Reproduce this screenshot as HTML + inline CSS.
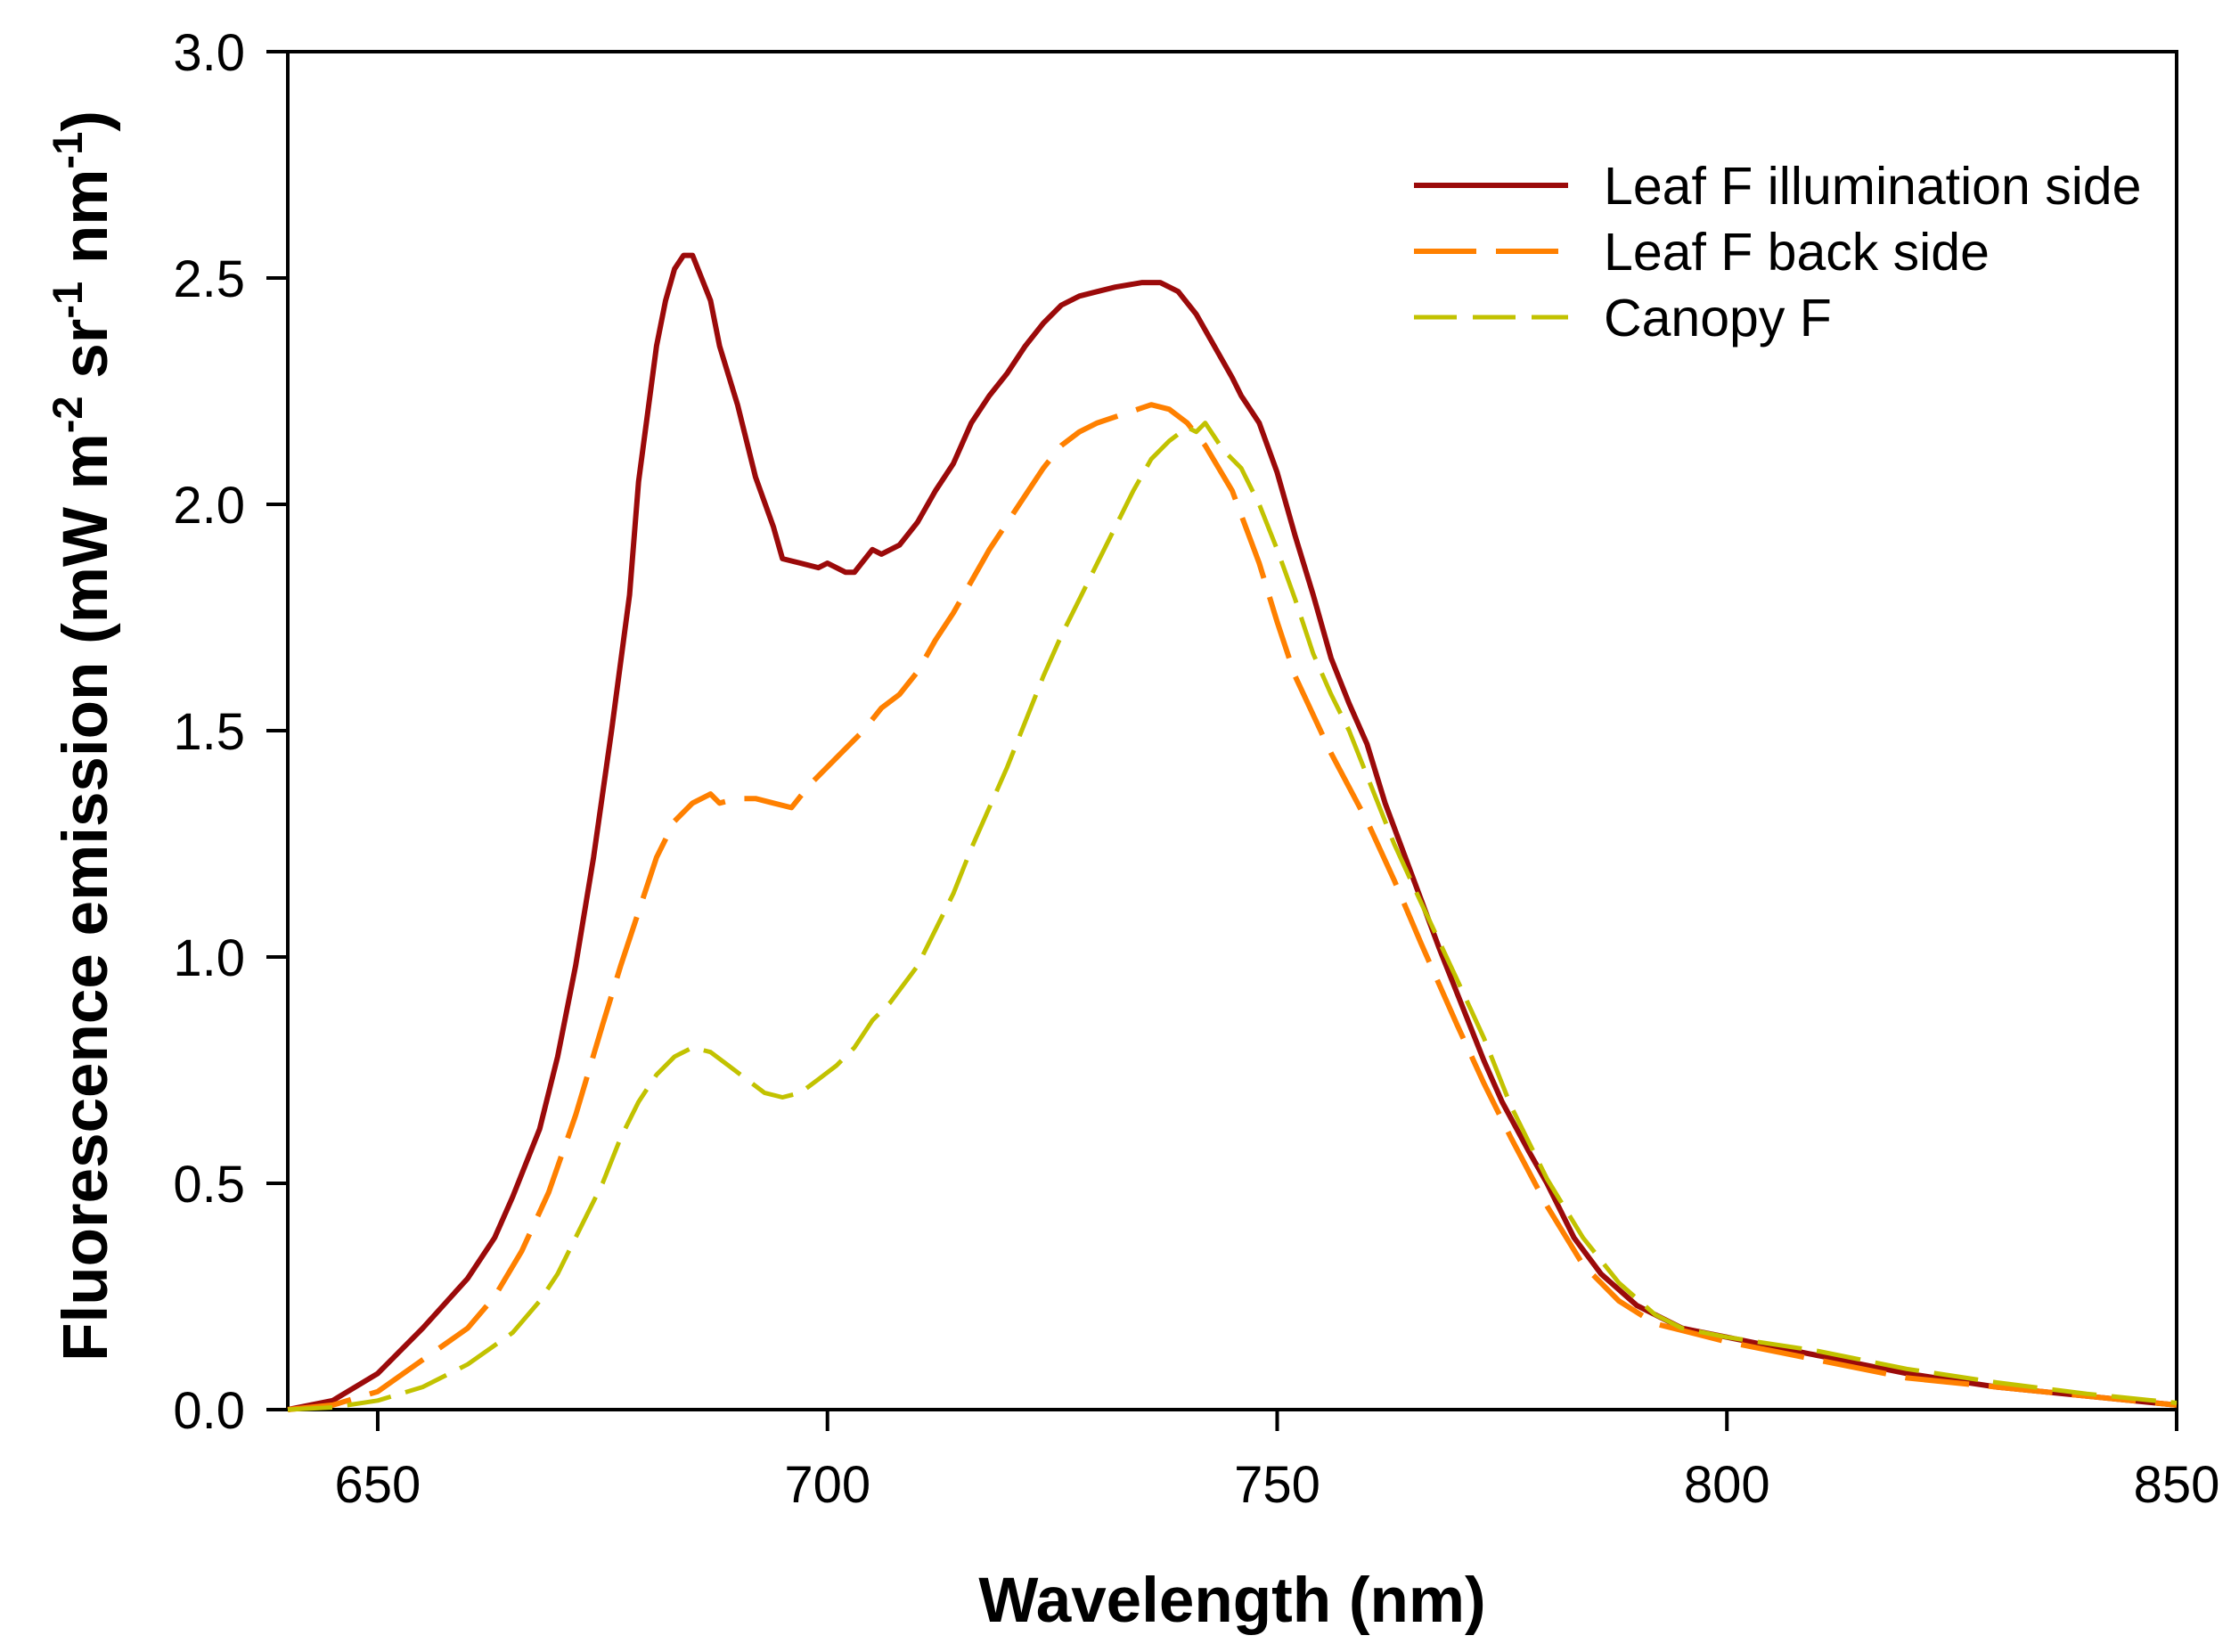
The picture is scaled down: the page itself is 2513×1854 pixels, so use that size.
<!DOCTYPE html>
<html><head><meta charset="utf-8"><style>
html,body{margin:0;padding:0;background:#fff;}
svg{display:block;font-family:"Liberation Sans",Arial,sans-serif;}
</style></head><body>
<svg id="chart" width="2513" height="1854" viewBox="0 0 2513 1854" xmlns="http://www.w3.org/2000/svg">
<rect width="2513" height="1854" fill="#fff"/>
<g id="axes"></g>
<g id="series"></g>
<g id="legend"></g>
<text x="1383" y="1820" font-size="71" font-weight="bold" text-anchor="middle">Wavelength (nm)</text>
<text transform="translate(120,826) rotate(-90)" font-size="71" font-weight="bold" text-anchor="middle">Fluorescence emission (mW m<tspan font-size="47" dy="-28">-2</tspan><tspan dy="28"> sr</tspan><tspan font-size="47" dy="-28">-1</tspan><tspan dy="28"> nm</tspan><tspan font-size="47" dy="-28">-1</tspan><tspan dy="28">)</tspan></text>
</svg>
<script>
const xTicks = [650, 700, 750, 800, 850];
const yTicks = [0.0, 0.5, 1.0, 1.5, 2.0, 2.5, 3.0];
const seriesNames = ["Leaf F illumination side", "Leaf F back side", "Canopy F"];
const illumWl = [640,645,650,655,660,663,665,668,670,672,674,676,678,679,680,681,682,683,684,685,686,687,688,690,692,694,695,697,699,700,702,703,705,706,708,710,712,714,716,718,720,722,724,726,728,730,732,735,737,739,741,743,745,746,748,750,752,754,756,758,760,762,765,768,770,773,775,778,780,783,786,790,795,800,810,820,830,840,850];
const illumVal = [0,0.02,0.08,0.18,0.29,0.38,0.47,0.62,0.78,0.98,1.22,1.5,1.8,2.05,2.2,2.35,2.45,2.52,2.55,2.55,2.5,2.45,2.35,2.22,2.06,1.95,1.88,1.87,1.86,1.87,1.85,1.85,1.9,1.89,1.91,1.96,2.03,2.09,2.18,2.24,2.29,2.35,2.4,2.44,2.46,2.47,2.48,2.49,2.49,2.47,2.42,2.35,2.28,2.24,2.18,2.07,1.93,1.8,1.66,1.56,1.47,1.34,1.18,1.02,0.92,0.77,0.68,0.57,0.5,0.38,0.3,0.23,0.18,0.16,0.12,0.08,0.05,0.03,0.01];
const backWl = [640,645,650,655,660,663,666,669,672,675,677,679,681,683,685,687,688,690,692,694,696,698,700,702,704,706,708,710,712,714,716,718,720,722,724,726,728,730,733,736,738,740,742,745,748,750,752,756,760,763,766,770,773,776,780,784,788,792,800,810,820,830,840,850];
const backVal = [0,0.01,0.04,0.11,0.18,0.25,0.35,0.48,0.65,0.85,0.98,1.1,1.22,1.3,1.34,1.36,1.34,1.35,1.35,1.34,1.33,1.38,1.42,1.46,1.5,1.55,1.58,1.63,1.7,1.76,1.83,1.9,1.96,2.02,2.08,2.13,2.16,2.18,2.2,2.22,2.21,2.18,2.13,2.03,1.87,1.74,1.62,1.45,1.3,1.17,1.03,0.85,0.72,0.6,0.45,0.32,0.24,0.19,0.15,0.11,0.07,0.05,0.03,0.01];
const canopyWl = [640,645,650,655,660,665,668,670,672,675,677,679,681,683,685,687,689,691,693,695,697,699,701,703,705,707,710,712,714,716,718,720,722,724,726,728,730,732,734,736,738,740,741,742,744,746,748,750,752,754,756,758,760,763,766,770,773,776,780,784,788,792,795,800,810,820,830,840,850];
const canopyVal = [0,0.005,0.02,0.05,0.1,0.17,0.24,0.3,0.38,0.5,0.6,0.68,0.74,0.78,0.8,0.79,0.76,0.73,0.7,0.69,0.7,0.73,0.76,0.8,0.86,0.9,0.98,1.06,1.14,1.24,1.33,1.42,1.52,1.62,1.71,1.79,1.87,1.95,2.03,2.1,2.14,2.17,2.16,2.18,2.12,2.08,2.0,1.9,1.79,1.67,1.58,1.5,1.4,1.25,1.12,0.95,0.82,0.67,0.51,0.38,0.28,0.21,0.18,0.16,0.13,0.09,0.06,0.035,0.015];

const NS = "http://www.w3.org/2000/svg";
const L = 323, R = 2443, T = 58, B = 1582;
const xMin = 640, xMax = 850, yMin = 0, yMax = 3;
function xs(v){ return L + (v - xMin) / (xMax - xMin) * (R - L); }
function ys(v){ return B - (v - yMin) / (yMax - yMin) * (B - T); }
function mk(tag, attrs, parent){ const e = document.createElementNS(NS, tag); for (const k in attrs) e.setAttribute(k, attrs[k]); parent.appendChild(e); return e; }

const axes = document.getElementById('axes');
const frame = mk('rect', {x:L, y:T, width:R-L, height:B-T, fill:'none', stroke:'#000', 'stroke-width':4}, axes);


xTicks.forEach(t => {
  const ln = mk('line', {x1:xs(t), x2:xs(t), y1:B, y2:B+24, stroke:'#000', 'stroke-width':4}, axes);
  
  
  const tx = mk('text', {x:xs(t), y:1686, 'font-size':58, 'text-anchor':'middle'}, axes);
  tx.textContent = t;
  
  
});
yTicks.forEach(t => {
  const ln = mk('line', {x1:L-24, x2:L, y1:ys(t), y2:ys(t), stroke:'#000', 'stroke-width':4}, axes);
  
  
  const tx = mk('text', {x:L-48, y:ys(t)+21, 'font-size':58, 'text-anchor':'end'}, axes);
  tx.textContent = t.toFixed(1);
  
  
});

const styles = [
  {color:'#9b0a0a', dash:'', w:6},
  {color:'#ff8000', dash:'72 22', w:6},
  {color:'#c2c200', dash:'50 17', w:5}
];
const datasets = [[illumWl, illumVal], [backWl, backVal], [canopyWl, canopyVal]];
const seriesG = document.getElementById('series');
[0, 1, 2].forEach(i => {
  const [wl, vals] = datasets[i];
  const d = wl.map((w, j) => (j ? 'L' : 'M') + xs(w).toFixed(1) + ' ' + ys(vals[j]).toFixed(1)).join(' ');
  const p = mk('path', {d:d, fill:'none', stroke:styles[i].color, 'stroke-width':styles[i].w, 'stroke-linejoin':'round'}, seriesG);
  if (styles[i].dash) p.setAttribute('stroke-dasharray', styles[i].dash);
  
  
});

const lg = document.getElementById('legend');
const rowsY = [208, 282, 356];
seriesNames.forEach((n, i) => {
  const ln = mk('line', {x1:1587, x2:1760, y1:rowsY[i], y2:rowsY[i], stroke:styles[i].color, 'stroke-width':styles[i].w}, lg);
  if (styles[i].dash) ln.setAttribute('stroke-dasharray', i === 1 ? '70 22' : '48 18');
  
  
  const tx = mk('text', {x:1800, y:rowsY[i]+21, 'font-size':59}, lg);
  tx.textContent = n;
  
  
});
</script>
</body></html>
